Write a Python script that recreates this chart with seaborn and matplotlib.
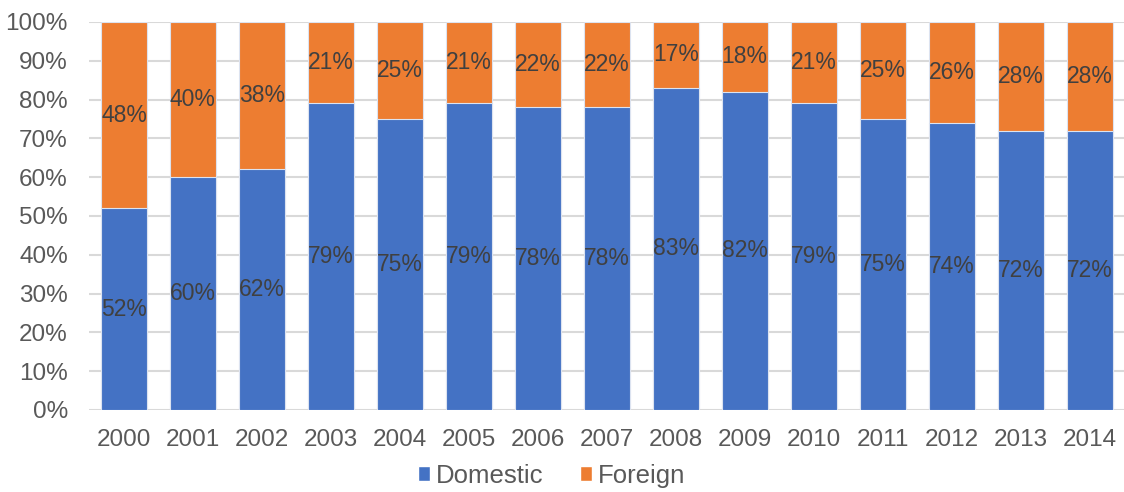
import matplotlib
matplotlib.use("Agg")
import matplotlib.pyplot as plt
import seaborn as sns
import pandas as pd
from matplotlib.patches import Patch
from matplotlib.ticker import FuncFormatter, MultipleLocator

years = ["2000", "2001", "2002", "2003", "2004", "2005", "2006", "2007",
         "2008", "2009", "2010", "2011", "2012", "2013", "2014"]
domestic = [52, 60, 62, 79, 75, 79, 78, 78, 83, 82, 79, 75, 74, 72, 72]
foreign = [48, 40, 38, 21, 25, 21, 22, 22, 17, 18, 21, 25, 26, 28, 28]

BLUE = "#4472C4"
ORANGE = "#ED7D31"
LABEL = "#404040"
TICK = "#595959"

sns.set_theme(style="white")
plt.rcParams["font.family"] = ["Liberation Sans", "DejaVu Sans"]

df = pd.DataFrame({"year": years, "domestic": domestic, "foreign": foreign})
df["total"] = df["domestic"] + df["foreign"]

fig = plt.figure(figsize=(11.24, 4.92), dpi=100)
ax = fig.add_axes([0.0796, 0.1667, 0.9204, 0.7886])

bar_kw = dict(width=0.667, edgecolor="#DCE3F0", linewidth=0.8, saturation=1, zorder=3)
sns.barplot(data=df, x="year", y="total", color=ORANGE, ax=ax, **bar_kw)
sns.barplot(data=df, x="year", y="domestic", color=BLUE, ax=ax, **bar_kw)

# segment labels centred in each stack piece
for i, (d, f) in enumerate(zip(domestic, foreign)):
    ax.text(i, d / 2, f"{d}%", ha="center", va="center", fontsize=16.5, color=LABEL, zorder=5)
    ax.text(i, d + f / 2, f"{f}%", ha="center", va="center", fontsize=16.5, color=LABEL, zorder=5)

ax.set_ylim(0, 100)
ax.set_xlim(-0.5, len(years) - 0.5)
ax.yaxis.set_major_locator(MultipleLocator(10))
ax.yaxis.set_major_formatter(FuncFormatter(lambda v, _: f"{v:.0f}%"))
ax.grid(axis="y", color="#D9D9D9", linewidth=1.5, zorder=0)
ax.set_axisbelow(True)
for s in ax.spines.values():
    s.set_visible(False)
ax.set_xlabel("")
ax.set_ylabel("")
ax.tick_params(axis="both", length=0, labelsize=17.5, colors=TICK)
ax.tick_params(axis="x", pad=14)
ax.tick_params(axis="y", pad=15.5)

handles = [Patch(facecolor=BLUE, label="Domestic"), Patch(facecolor=ORANGE, label="Foreign")]
leg = fig.legend(handles=handles, loc="center", bbox_to_anchor=(0.4907, 0.033), ncol=2,
                 frameon=False, fontsize=18.5, handlelength=0.48, handleheight=0.48,
                 handletextpad=0.22, columnspacing=1.4, borderaxespad=0, borderpad=0)
for t in leg.get_texts():
    t.set_color(TICK)

fig.savefig("out.png", dpi=100)
